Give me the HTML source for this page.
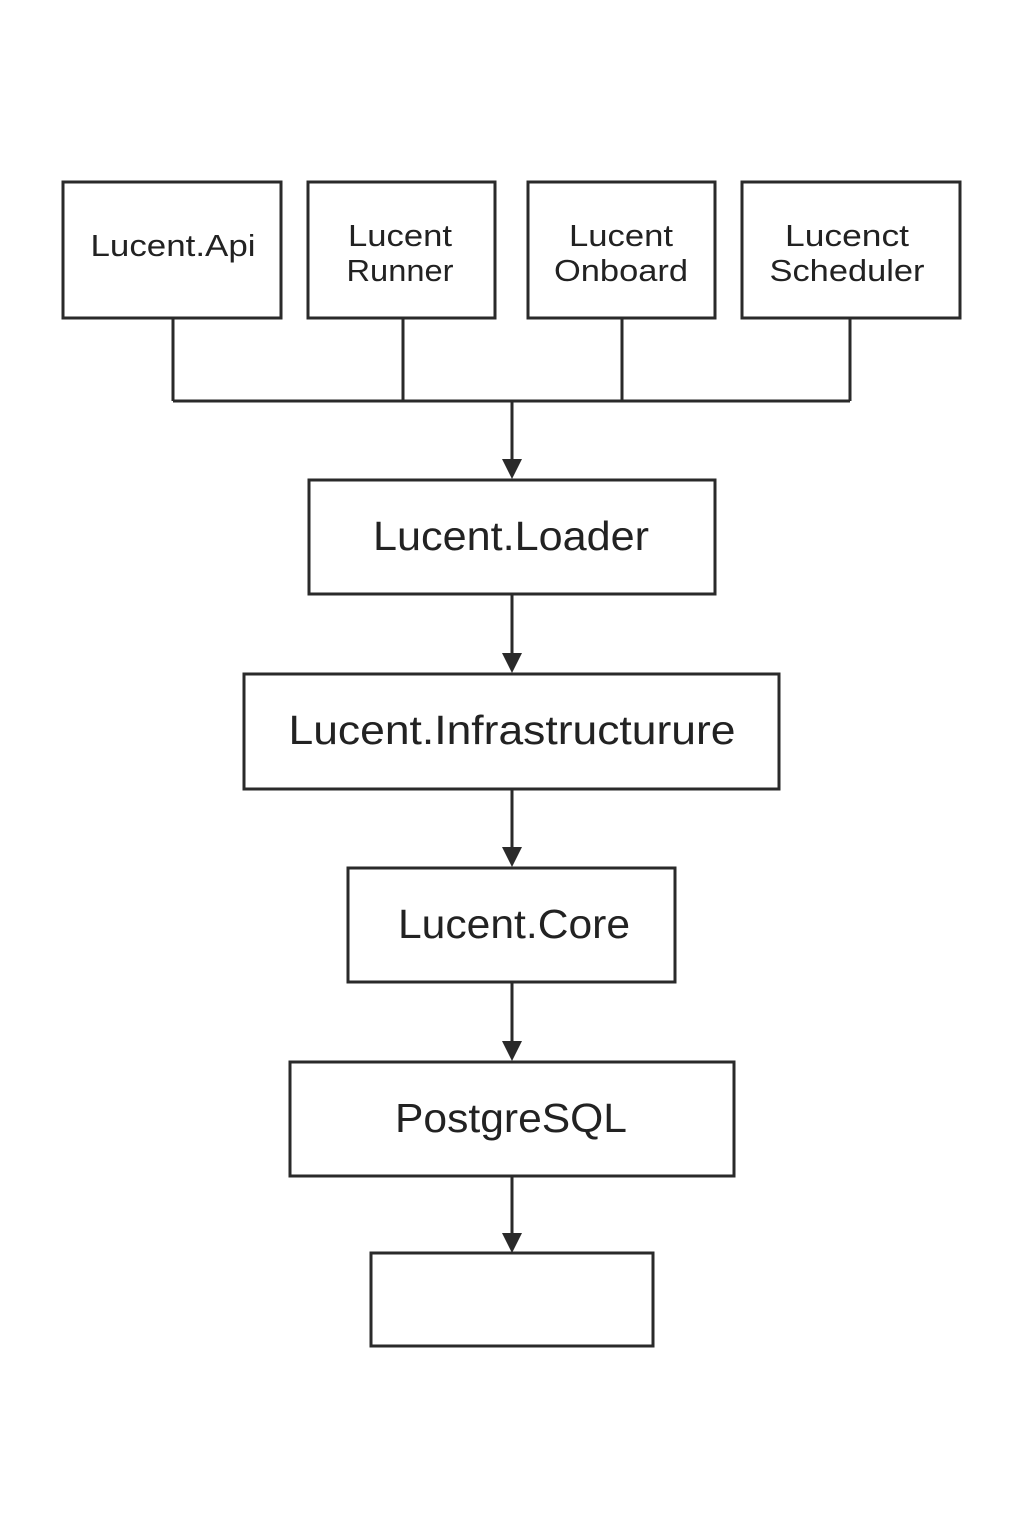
<!DOCTYPE html>
<html><head><meta charset="utf-8"><style>
html,body{margin:0;padding:0;background:#fff;}
svg{display:block;}
text{font-family:"Liberation Sans","DejaVu Sans",sans-serif;fill:#222;}
</style></head><body>
<svg width="1024" height="1536" viewBox="0 0 1024 1536" xmlns="http://www.w3.org/2000/svg">
<g fill="none" stroke="#2a2a2a" stroke-width="3">
<rect x="63" y="182" width="218" height="136"/>
<rect x="308" y="182" width="187" height="136"/>
<rect x="528" y="182" width="187" height="136"/>
<rect x="742" y="182" width="218" height="136"/>
<rect x="309" y="480" width="406" height="114"/>
<rect x="244" y="674" width="535" height="115"/>
<rect x="348" y="868" width="327" height="114"/>
<rect x="290" y="1062" width="444" height="114"/>
<rect x="371" y="1253" width="282" height="93"/>
<path d="M173 318V401M403 318V401M622 318V401M850 318V401M173 401H850"/>
<path d="M512 401V462M512 594V656M512 789V850M512 982V1044M512 1176V1236"/>
</g>
<g fill="#2a2a2a">
<polygon points="502,459 522,459 512,479"/>
<polygon points="502,653 522,653 512,673"/>
<polygon points="502,847 522,847 512,867"/>
<polygon points="502,1041 522,1041 512,1061"/>
<polygon points="502,1233 522,1233 512,1253"/>
</g>
<g text-anchor="middle" font-size="31" lengthAdjust="spacingAndGlyphs">
<text x="173" y="256" textLength="165" lengthAdjust="spacingAndGlyphs">Lucent.Api</text>
<text x="400" y="246" textLength="104" lengthAdjust="spacingAndGlyphs">Lucent</text>
<text x="400" y="281" textLength="107" lengthAdjust="spacingAndGlyphs">Runner</text>
<text x="621" y="246" textLength="104" lengthAdjust="spacingAndGlyphs">Lucent</text>
<text x="621" y="281" textLength="134" lengthAdjust="spacingAndGlyphs">Onboard</text>
<text x="847" y="246" textLength="124" lengthAdjust="spacingAndGlyphs">Lucenct</text>
<text x="847" y="281" textLength="155" lengthAdjust="spacingAndGlyphs">Scheduler</text>
</g>
<g text-anchor="middle" font-size="41">
<text x="511" y="550" textLength="276" lengthAdjust="spacingAndGlyphs">Lucent.Loader</text>
<text x="512" y="744" textLength="447" lengthAdjust="spacingAndGlyphs">Lucent.Infrastructurure</text>
<text x="514" y="938" textLength="232" lengthAdjust="spacingAndGlyphs">Lucent.Core</text>
<text x="511" y="1132" textLength="232" lengthAdjust="spacingAndGlyphs">PostgreSQL</text>
</g>
</svg>
</body></html>
